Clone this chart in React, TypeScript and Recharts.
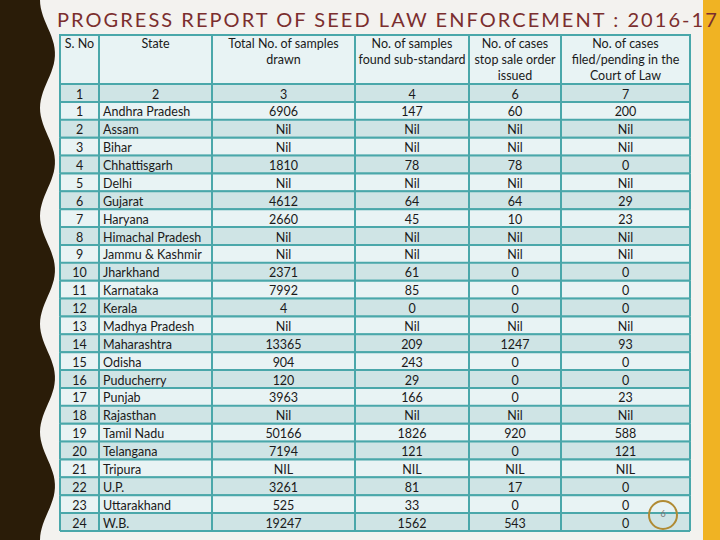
import { BarChart, Bar, XAxis, YAxis } from 'recharts'

// Table values
const indexRow = ['1', '2', '3', '4', '6', '7']
const serialNos = ['1', '2', '3', '4', '5', '6', '7', '8', '9', '10', '11', '12', '13', '14', '15', '16', '17', '18', '19', '20', '21', '22', '23', '24']
const states = [
  'Andhra Pradesh', 'Assam', 'Bihar', 'Chhattisgarh', 'Delhi', 'Gujarat', 'Haryana',
  'Himachal Pradesh', 'Jammu & Kashmir', 'Jharkhand', 'Karnataka', 'Kerala',
  'Madhya Pradesh', 'Maharashtra', 'Odisha', 'Puducherry', 'Punjab', 'Rajasthan',
  'Tamil Nadu', 'Telangana', 'Tripura', 'U.P.', 'Uttarakhand', 'W.B.',
]
const samplesDrawn = ['6906', 'Nil', 'Nil', '1810', 'Nil', '4612', '2660', 'Nil', 'Nil', '2371', '7992', '4', 'Nil', '13365', '904', '120', '3963', 'Nil', '50166', '7194', 'NIL', '3261', '525', '19247']
const subStandard = ['147', 'Nil', 'Nil', '78', 'Nil', '64', '45', 'Nil', 'Nil', '61', '85', '0', 'Nil', '209', '243', '29', '166', 'Nil', '1826', '121', 'NIL', '81', '33', '1562']
const stopSaleOrders = ['60', 'Nil', 'Nil', '78', 'Nil', '64', '10', 'Nil', 'Nil', '0', '0', '0', 'Nil', '1247', '0', '0', '0', 'Nil', '920', '0', 'NIL', '17', '0', '543']
const courtCases = ['200', 'Nil', 'Nil', '0', 'Nil', '29', '23', 'Nil', 'Nil', '0', '0', '0', 'Nil', '93', '0', '0', '23', 'Nil', '588', '121', 'NIL', '0', '0', '0']

const headers = [
  ['S. No'],
  ['State'],
  ['Total No. of samples', 'drawn'],
  ['No. of samples', 'found sub-standard'],
  ['No. of cases', 'stop sale order', 'issued'],
  ['No. of cases', 'filed/pending in the', 'Court of Law'],
]

const rows = [
  { key: 'idx', cells: indexRow, span: 1 },
  ...serialNos.map((s, i) => ({
    key: 'r' + s,
    cells: [s, states[i], samplesDrawn[i], subStandard[i], stopSaleOrders[i], courtCases[i]],
    span: 1,
  })),
]

// layout
const TABLE_LEFT = 60
const TABLE_WIDTH = 630
const COL_EDGES = [0, 39, 152, 295, 409, 501, 630]
const TEAL = '#4aa7aa'
const DARK_ROW = '#cfe4e5'
const LIGHT_ROW = '#e8f3f4'
const FONT = 'Lato, "Open Sans", sans-serif'

function RowShape(props: any) {
  const { x, y, width, height, index, payload } = props
  const k = width / TABLE_WIDTH
  const edges = COL_EDGES.map((e) => x + e * k)
  const cy = y + height / 2
  return (
    <g>
      <rect x={x} y={y} width={width} height={height} fill={index % 2 === 0 ? DARK_ROW : LIGHT_ROW} />
      {payload.cells.map((c: string, ci: number) => {
        const left = ci === 1 && index > 0
        return (
          <text
            key={ci}
            x={left ? edges[ci] + 4 : (edges[ci] + edges[ci + 1]) / 2}
            y={cy + 1}
            textAnchor={left ? 'start' : 'middle'}
            dominantBaseline="central"
            fontFamily={FONT}
            fontSize={12.5}
            fill="#1a1a1a"
          >
            {c}
          </text>
        )
      })}
      <line x1={x} x2={x + width} y1={y} y2={y} stroke={TEAL} strokeWidth={2} />
      <line x1={x} x2={x + width} y1={y + height} y2={y + height} stroke={TEAL} strokeWidth={2} />
      {edges.map((e, i) => (
        <line key={i} x1={e} x2={e} y1={y} y2={y + height} stroke={TEAL} strokeWidth={2} />
      ))}
    </g>
  )
}

function wavePath() {
  let d = 'M0,0 L40,0'
  for (let y = 0; y <= 540; y += 4) {
    const xw = 47.5 - 7.5 * Math.cos((y / 108) * 2 * Math.PI)
    d += ` L${xw.toFixed(1)},${y}`
  }
  return d + ' L0,540 Z'
}

export default function App() {
  return (
    <div
      style={{
        position: 'absolute',
        left: 0,
        top: 0,
        width: 720,
        height: 540,
        overflow: 'hidden',
        background: '#f3f2ef',
        fontFamily: FONT,
      }}
    >
      {/* slide decoration */}
      <svg width={720} height={540} style={{ position: 'absolute', left: 0, top: 0 }}>
        <path d={wavePath()} fill="#2a1c08" />
        <rect x={703} y={0} width={17} height={540} fill="#f0b323" />
      </svg>

      <div
        style={{
          position: 'absolute',
          left: 57,
          top: 7,
          fontSize: 20,
          letterSpacing: 2.05,
          color: '#7b2e2e',
          whiteSpace: 'nowrap',
        }}
      >
        PROGRESS REPORT OF SEED LAW ENFORCEMENT : 2016-17
      </div>

      {/* header row */}
      <div
        style={{
          position: 'absolute',
          left: TABLE_LEFT - 1,
          top: 34,
          width: TABLE_WIDTH + 2,
          height: 51,
          boxSizing: 'border-box',
          border: `2px solid ${TEAL}`,
          background: LIGHT_ROW,
        }}
      />
      {headers.map((h, i) => (
        <div
          key={i}
          style={{
            position: 'absolute',
            left: TABLE_LEFT + COL_EDGES[i],
            top: 36,
            width: COL_EDGES[i + 1] - COL_EDGES[i],
            textAlign: 'center',
            fontSize: 12.5,
            lineHeight: '16px',
            color: '#1a1a1a',
          }}
        >
          {h.map((l, j) => (
            <div key={j}>{l}</div>
          ))}
        </div>
      ))}
      {COL_EDGES.slice(1, -1).map((e, i) => (
        <div
          key={i}
          style={{ position: 'absolute', left: TABLE_LEFT + e - 1, top: 34, width: 2, height: 50, background: TEAL }}
        />
      ))}

      <div style={{ position: 'absolute', left: 0, top: 0 }}>
        <BarChart
          width={720}
          height={540}
          data={rows}
          layout="vertical"
          barCategoryGap={0}
          margin={{ top: 84, right: 30, bottom: 9, left: TABLE_LEFT }}
        >
          <XAxis type="number" domain={[0, 1]} hide />
          <YAxis type="category" dataKey="key" hide />
          <Bar dataKey="span" shape={RowShape} isAnimationActive={false} />
        </BarChart>
      </div>

      {/* page number */}
      <svg width={720} height={540} style={{ position: 'absolute', left: 0, top: 0, pointerEvents: 'none' }}>
        <circle cx={663} cy={515} r={14} fill="none" stroke="#b08b34" strokeWidth={2} />
        <text x={663} y={513} textAnchor="middle" dominantBaseline="central" fontSize={9} fill="#777" fontFamily={FONT}>
          6
        </text>
      </svg>
    </div>
  )
}
